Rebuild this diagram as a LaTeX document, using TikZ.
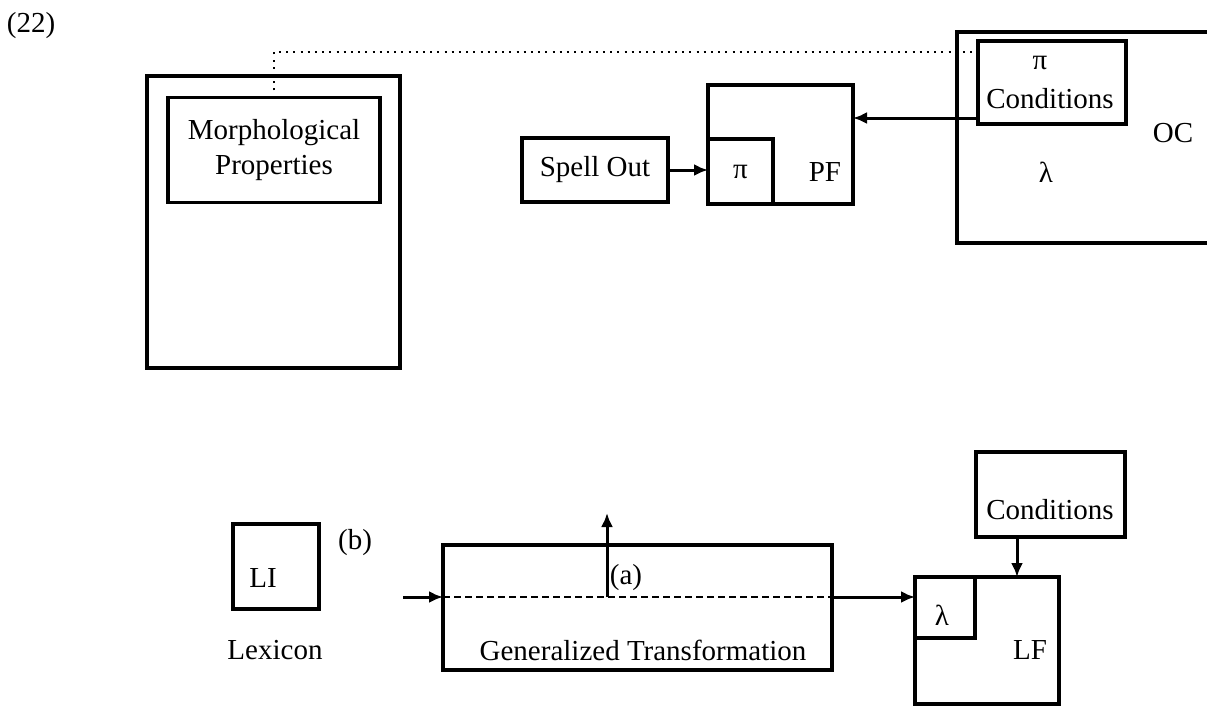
\documentclass[tikz,border=0pt]{standalone}
\usepackage{fontspec}
\setmainfont{Liberation Serif}
\usetikzlibrary{arrows.meta}
\begin{document}
\begin{tikzpicture}[
  x=0.5pt, y=-0.5pt,
  font=\fontsize{14.5}{17.5}\selectfont,
  box/.style={draw, line width=1.6pt, inner sep=0pt, outer sep=0pt},
  lbl/.style={inner sep=0pt},
  arr/.style={-{Latex[length=7pt,width=6pt]}, line width=1.5pt},
  dotline/.style={line width=1.1pt, dash pattern=on 1pt off 2.6pt},
  dashline/.style={line width=1.3pt, dash pattern=on 3.5pt off 2pt}
]
\useasboundingbox (0,0) rectangle (1207,713);
\clip (0,0) rectangle (1207,713);

\node[lbl] (num) at (31,26) {(22)};

% morphology component
\node[box, minimum width=126.5pt, minimum height=146pt] (morphouter) at (273.5,222) {};
\node[box, minimum width=106pt, minimum height=52.5pt, align=center] (morph) at (274,150) {Morphological\\Properties};

% PF branch
\node[box, minimum width=73pt, minimum height=32pt] (spell) at (595,170) {Spell Out};
\node[box, minimum width=72.5pt, minimum height=59.5pt] (PF) at (780.5,144.5) {};
\node[box, minimum width=32.5pt, minimum height=32.5pt] (pibox) at (740.5,171.5) {π};
\node[lbl] (pflbl) at (825,172) {PF};

% output conditions (box runs off the right edge)
\node[box, minimum width=141.5pt, minimum height=105.5pt] (OC) at (1098.5,137.5) {};
\node[box, minimum width=74pt, minimum height=41.5pt] (condtop) at (1052,82.5) {};
\node[lbl] (condpi) at (1040,63) {π};
\node[lbl] (condtxt) at (1050,99) {Conditions};
\node[lbl] (oclbl) at (1173,133) {OC};
\node[lbl] (oclam) at (1046,172) {λ};

% lexicon and generalized transformation
\node[box, minimum width=43pt, minimum height=42.5pt] (LI) at (276,566.5) {};
\node[lbl] (lilbl) at (263,578) {LI};
\node[lbl] (blbl) at (355,543) {(b)};
\node[lbl] (lexlbl) at (275,650) {Lexicon};
\node[box, minimum width=194.5pt, minimum height=62.5pt] (GT) at (637.5,607.5) {};
\node[lbl] (gtlbl) at (643,650) {Generalized Transformation};
\node[lbl] (albl) at (626,578) {(a)};

% LF branch
\node[box, minimum width=74.5pt, minimum height=42.5pt] (condbot) at (1050.5,494.5) {};
\node[lbl] (condbottxt) at (1050,510) {Conditions};
\node[box, minimum width=72pt, minimum height=63.5pt] (LF) at (987,640.5) {};
\node[box, minimum width=30pt, minimum height=30.5pt] (lambox) at (945,607.5) {};
\node[lbl] (lamlbl) at (942,615) {λ};
\node[lbl] (lflbl) at (1030,650) {LF};

% helper coordinates
\coordinate (dotrow) at (0,52);
\coordinate (feed) at (403,597);
\coordinate (abase) at (607,597);
\coordinate (atip) at (607,513);
\coordinate (dncol) at (1017,0);

% connectors
\draw[dotline] (morph.north) |- (condtop.west |- dotrow);
\draw[arr] (spell.east) -- (spell.east -| pibox.west);
\draw[arr] ([yshift=3pt]condtop.south west) -- ([yshift=3pt]condtop.south west -| PF.east);
\draw[arr] (feed) -- (GT.west |- feed);
\draw[dashline] (GT.west |- feed) -- (GT.east |- feed);
\draw[arr] (abase) -- (atip);
\draw[arr] (GT.east |- feed) -- (LF.west |- feed);
\draw[arr] (condbot.south -| dncol) -- (LF.north -| dncol);
\end{tikzpicture}
\end{document}
